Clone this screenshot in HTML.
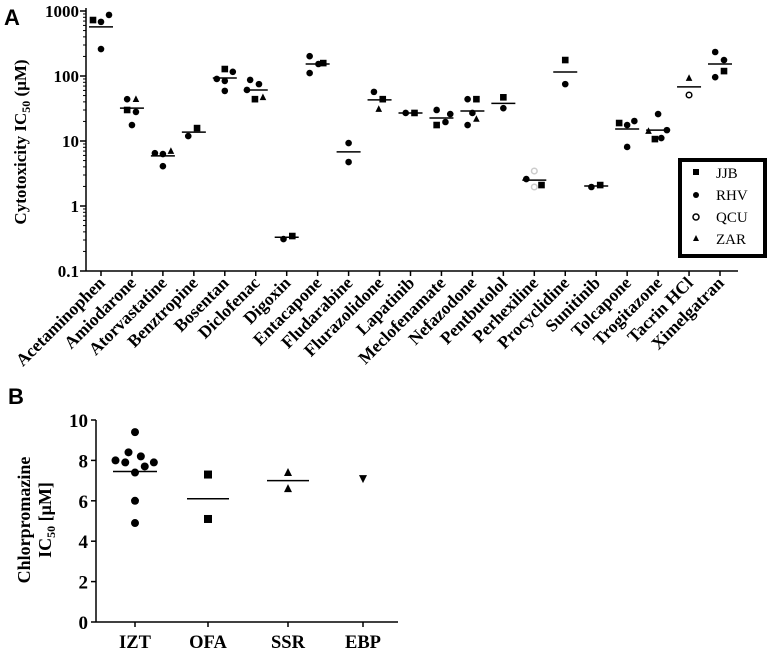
<!DOCTYPE html>
<html><head><meta charset="utf-8">
<style>
html,body{margin:0;padding:0;background:#fff;}
svg{display:block;font-family:"Liberation Serif",serif;}
</style></head>
<body>
<svg id="chart" width="767" height="652" viewBox="0 0 767 652">
<text x="4" y="25" font-family="Liberation Sans,sans-serif" font-weight="bold" font-size="22">A</text>
<text x="8" y="404" font-family="Liberation Sans,sans-serif" font-weight="bold" font-size="22">B</text>
<g id="pa"></g>
<g id="pb"></g>
<text transform="translate(26,142) rotate(-90)" text-anchor="middle" font-weight="bold" font-size="17">Cytotoxicity IC<tspan font-size="12" dy="4">50</tspan><tspan dy="-4"> (μM)</tspan></text>
<text transform="translate(30,520) rotate(-90)" text-anchor="middle" font-weight="bold" font-size="18">Chlorpromazine</text>
<text transform="translate(51,520) rotate(-90)" text-anchor="middle" font-weight="bold" font-size="18">IC<tspan font-size="12" dy="4">50</tspan><tspan dy="-4"> [μM]</tspan></text>
<g>
<rect x="680" y="160" width="85" height="96" fill="#fff" stroke="#000" stroke-width="4"></rect>
<rect x="693" y="169" width="6" height="6" fill="#000"></rect>
<text x="716" y="178" font-size="15">JJB</text>
<circle cx="696" cy="195" r="3" fill="#000"></circle>
<text x="716" y="200" font-size="15">RHV</text>
<circle cx="696" cy="217" r="3" fill="#fff" stroke="#000" stroke-width="1.5"></circle>
<text x="716" y="222" font-size="15">QCU</text>
<polygon points="696,235 699,241 693,241" fill="#000"></polygon>
<text x="716" y="244" font-size="15">ZAR</text>
</g>
</svg>
<script>
const drugs = ["Acetaminophen","Amiodarone","Atorvastatine","Benztropine","Bosentan","Diclofenac","Digoxin","Entacapone","Fludarabine","Flurazolidone","Lapatinib","Meclofenamate","Nefazodone","Pentbutolol","Perhexiline","Procyclidine","Sunitinib","Tolcapone","Trogitazone","Tacrin HCl","Ximelgatran"];
const drugMeans = [570,32,5.9,13.7,93,61,0.33,153,6.8,43,27,22.6,29,38,2.5,115,2.03,15.3,14.7,68,153];
// each point: [drugIndex, series, value, xOffset slot]
const drugPoints = [
[0,"JJB",726,-1],[0,"RHV",680,0],[0,"RHV",870,1],[0,"RHV",260,0],
[1,"RHV",44,-0.6],[1,"ZAR",44,0.5],[1,"JJB",30,-0.6],[1,"RHV",28,0.5],[1,"RHV",17.6,0],
[2,"RHV",6.5,-1],[2,"RHV",6.3,0],[2,"ZAR",7.0,1],[2,"RHV",4.1,0],
[3,"RHV",11.9,-0.7],[3,"JJB",15.8,0.4],
[4,"RHV",90,-1],[4,"JJB",128,0],[4,"RHV",116,1],[4,"RHV",84,0],[4,"RHV",59,0],
[5,"RHV",87,-0.7],[5,"RHV",75,0.4],[5,"RHV",61,-1.1],[5,"JJB",44,-0.1],[5,"ZAR",47,0.9],
[6,"RHV",0.31,-0.4],[6,"JJB",0.345,0.7],
[7,"RHV",202,-1],[7,"RHV",111,-1],[7,"RHV",153,0.1],[7,"JJB",158,0.7],
[8,"RHV",9.3,0],[8,"RHV",4.75,0],
[9,"RHV",57,-0.7],[9,"JJB",44,0.4],[9,"ZAR",31,-0.1],
[10,"RHV",27,-0.6],[10,"JJB",27,0.5],
[11,"RHV",30,-0.6],[11,"RHV",26,1.1],[11,"JJB",17.6,-0.6],[11,"RHV",19.6,0.5],
[12,"RHV",44,-0.6],[12,"JJB",44,0.5],[12,"RHV",27,0],[12,"RHV",17.6,-0.6],[12,"ZAR",21.8,0.5],
[13,"JJB",47,0],[13,"RHV",32,0],
[14,"QCU",3.45,0],[14,"QCU",1.96,0],[14,"RHV",2.6,-1],[14,"JJB",2.1,0.9],
[15,"JJB",176,0],[15,"RHV",75,0],
[16,"RHV",1.96,-0.6],[16,"JJB",2.1,0.5],
[17,"JJB",18.9,-1],[17,"RHV",17.6,0],[17,"RHV",20.3,0.9],[17,"RHV",8.1,0],
[18,"RHV",26,0],[18,"ZAR",14.2,-1.2],[18,"RHV",14.7,1.1],[18,"JJB",10.7,-0.4],[18,"RHV",11.1,0.4],
[19,"ZAR",93,0],[19,"QCU",51,0],
[20,"RHV",234,-0.6],[20,"RHV",176,0.5],[20,"RHV",96,-0.6],[20,"JJB",119,0.5]
];
const logTicks = [0.1,1,10,100,1000];
const logTickLabels = ["0.1","1","10","100","1000"];
const groups = ["IZT","OFA","SSR","EBP"];
const groupMeans = [7.45,6.1,7.0,null];
const groupPoints = [
[0,"circle",9.4,0],[0,"circle",8.0,-1.5],[0,"circle",8.4,-0.5],[0,"circle",8.2,0.45],[0,"circle",7.9,-0.75],[0,"circle",7.9,1.45],[0,"circle",7.7,0.75],[0,"circle",7.4,0],[0,"circle",6.0,0],[0,"circle",4.9,0],
[1,"square",7.3,0],[1,"square",5.1,0],
[2,"triangle",7.4,0],[2,"triangle",6.6,0],
[3,"down",7.1,0]
];
const linTicks = [0,2,4,6,8,10];

const NS="http://www.w3.org/2000/svg";
function mk(parent,tag,attrs){const e=document.createElementNS(NS,tag);for(const k in attrs)e.setAttribute(k,attrs[k]);parent.appendChild(e);return e;}

// Panel A
const pa=document.getElementById('pa');
const ax0=86, ay0=271, decade=65, x0=101, step=30.95;
const ya=v=>206-Math.log10(v)*decade;
const xa=i=>x0+step*i;
let l=mk(pa,'line',{x1:ax0,y1:8,x2:ax0,y2:ay0,stroke:'#000','stroke-width':1.5});


l=mk(pa,'line',{x1:ax0,y1:ay0,x2:738,y2:ay0,stroke:'#000','stroke-width':1.5});


logTicks.forEach((t,i)=>{
  const y=ya(t);
  let tk=mk(pa,'line',{x1:ax0-6,y1:y,x2:ax0,y2:y,stroke:'#000','stroke-width':1.5});
  
  
  let tx=mk(pa,'text',{x:ax0-7,y:y+6,'text-anchor':'end','font-weight':'bold','font-size':17});
  tx.textContent=logTickLabels[i];
  
  
  if(i<logTicks.length-1){for(let m=2;m<=9;m++){const ym=ya(t*m);
    let mt=mk(pa,'line',{x1:ax0-3,y1:ym,x2:ax0,y2:ym,stroke:'#000','stroke-width':1});
    
    }}
});
function marker(g,shape,cx,cy,s,fill){
  let e;
  if(shape==="JJB"||shape==="square") e=mk(g,'rect',{x:cx-s,y:cy-s,width:2*s,height:2*s,fill:'#000'});
  else if(shape==="RHV"||shape==="circle") e=mk(g,'circle',{cx:cx,cy:cy,r:s,fill:'#000'});
  else if(shape==="QCU") e=mk(g,'circle',{cx:cx,cy:cy,r:s-0.5,fill:'#fff',stroke:fill||'#000','stroke-width':1.5});
  else if(shape==="ZAR"||shape==="triangle") e=mk(g,'polygon',{points:`${cx},${cy-s-0.5} ${cx+s},${cy+s-0.5} ${cx-s},${cy+s-0.5}`,fill:'#000'});
  else e=mk(g,'polygon',{points:`${cx-s},${cy-s+0.5} ${cx+s},${cy-s+0.5} ${cx},${cy+s+0.5}`,fill:'#000'});
  return e;
}
drugs.forEach((d,i)=>{
  const x=xa(i);
  let tk=mk(pa,'line',{x1:x,y1:ay0,x2:x,y2:ay0+5,stroke:'#000','stroke-width':1.5});
  
  
  let tx=mk(pa,'text',{transform:`translate(${x+5},${ay0+13}) rotate(-45)`,'text-anchor':'end','font-weight':'bold','font-size':17.5});
  tx.textContent=d;
  
  
  let m=mk(pa,'line',{x1:x-12,y1:ya(drugMeans[i]),x2:x+12,y2:ya(drugMeans[i]),stroke:'#000','stroke-width':1.5});
  
  
});
drugPoints.forEach(p=>{
  const cx=xa(p[0])+p[3]*8, cy=ya(p[2]);
  const e=marker(pa,p[1],cx,cy,3.3,p[1]==="QCU"&&p[0]===14?'#ccc':'#000');
  
  
});

// Panel B
const pb=document.getElementById('pb');
const bx0=96, by0=622, unit=20.2;
const yb=v=>by0-v*unit;
const bxs=[135,208,288,363];
l=mk(pb,'line',{x1:bx0,y1:yb(10),x2:bx0,y2:by0,stroke:'#000','stroke-width':1.5});


l=mk(pb,'line',{x1:bx0,y1:by0,x2:398,y2:by0,stroke:'#000','stroke-width':1.5});


linTicks.forEach(t=>{
  const y=yb(t);
  let tk=mk(pb,'line',{x1:bx0-5,y1:y,x2:bx0,y2:y,stroke:'#000','stroke-width':1.5});
  
  
  let tx=mk(pb,'text',{x:bx0-8,y:y+7,'text-anchor':'end','font-weight':'bold','font-size':19});
  tx.textContent=t;
  
  
});
groups.forEach((g,i)=>{
  const x=bxs[i];
  let tk=mk(pb,'line',{x1:x,y1:by0,x2:x,y2:by0+5,stroke:'#000','stroke-width':1.5});
  
  
  let tx=mk(pb,'text',{x:x,y:by0+26,'text-anchor':'middle','font-weight':'bold','font-size':18.5});
  tx.textContent=g;
  
  
  if(groupMeans[i]!==null){
    const hw=i===0?22:21;
    let m=mk(pb,'line',{x1:x-hw,y1:yb(groupMeans[i]),x2:x+hw,y2:yb(groupMeans[i]),stroke:'#000','stroke-width':1.5});
    
    
  }
});
groupPoints.forEach(p=>{
  const e=marker(pb,p[1],bxs[p[0]]+p[3]*13,yb(p[2]),4,'#000');
  
  
});
</script>
</body></html>
